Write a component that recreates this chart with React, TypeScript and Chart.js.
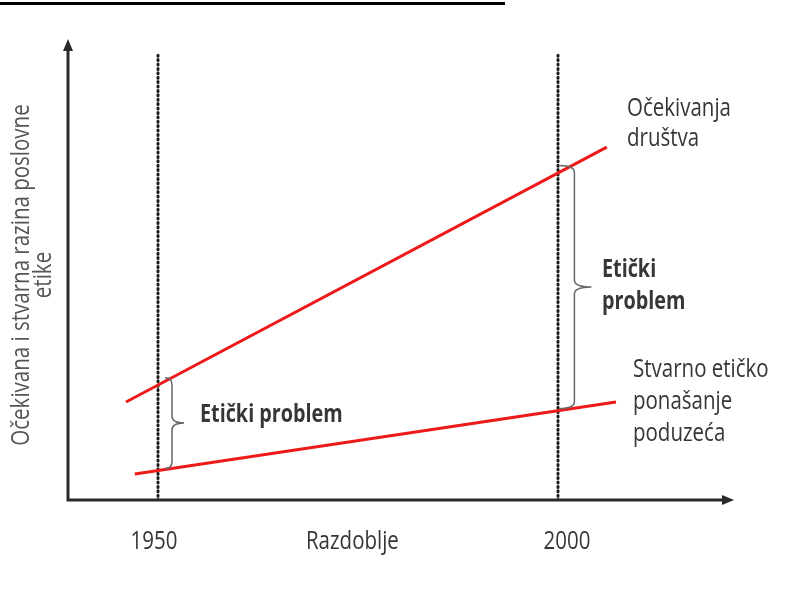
import React, { useEffect, useRef } from "react";
import { Chart, registerables } from "chart.js";

Chart.register(...registerables);

// Data (years on x, level of business ethics on y, 0..100 scale)
const expectationYears = [1946.0, 2006.1];
const expectationValues = [21.3, 76.7];
const actualYears = [1947.1, 2007.25];
const actualValues = [5.65, 21.3];
const markerYears = [1950, 2000];
const markerTop = 96.7;
const xTickLabels = ["1950", "Razdoblje", "2000"];
const xTickPositions = [1950, 1974.3, 2000];
const yAxisTitle = ["Očekivana i stvarna razina poslovne", "etike"];
const expectationLabel = ["Očekivanja", "društva"];
const actualLabel = ["Stvarno etičko", "ponašanje", "poduzeća"];
const gapLabelLeft = "Etički problem";
const gapLabelRight = ["Etički", "problem"];
const braceYears = [1951.75, 2001.8];

const FONT = "'Open Sans', sans-serif";
const RED = "#ee1a1a";
const DARK = "#363636";
const VS = 1.28;

function interp(xs: number[], ys: number[], x: number) {
  const t = (x - xs[0]) / (xs[1] - xs[0]);
  return ys[0] + t * (ys[1] - ys[0]);
}

function drawBrace(ctx: CanvasRenderingContext2D, x: number, y1: number, y2: number, body: number, tip: number) {
  const ym = (y1 + y2) / 2;
  const q = 7;
  ctx.beginPath();
  ctx.moveTo(x, y1);
  ctx.quadraticCurveTo(x + body, y1, x + body, y1 + q);
  ctx.lineTo(x + body, ym - q);
  ctx.quadraticCurveTo(x + body, ym, x + tip, ym);
  ctx.quadraticCurveTo(x + body, ym, x + body, ym + q);
  ctx.lineTo(x + body, y2 - q);
  ctx.quadraticCurveTo(x + body, y2, x, y2);
  ctx.stroke();
}

function text(ctx: CanvasRenderingContext2D, t: string, x: number, y: number) {
  ctx.save();
  ctx.translate(x, y);
  ctx.scale(1, VS);
  ctx.fillText(t, 0, 0);
  ctx.restore();
}

const decorPlugin = {
  id: "decor",
  afterDatasetsDraw(chart: any) {
    const { ctx, chartArea, scales } = chart;
    const xs = scales.x;
    const ys = scales.y;
    ctx.save();
    // top black rule
    ctx.fillStyle = "#000";
    ctx.fillRect(0, 2, 505, 3);

    // axes
    ctx.strokeStyle = "#2a2a2a";
    ctx.fillStyle = "#2a2a2a";
    ctx.lineWidth = 3;
    ctx.beginPath();
    ctx.moveTo(chartArea.left, chartArea.bottom);
    ctx.lineTo(chartArea.left, chartArea.top + 8);
    ctx.moveTo(chartArea.left - 1.5, chartArea.bottom);
    ctx.lineTo(chartArea.right - 8, chartArea.bottom);
    ctx.stroke();
    ctx.beginPath();
    ctx.moveTo(chartArea.left, chartArea.top - 1);
    ctx.lineTo(chartArea.left - 5, chartArea.top + 11);
    ctx.lineTo(chartArea.left + 5, chartArea.top + 11);
    ctx.closePath();
    ctx.fill();
    ctx.beginPath();
    ctx.moveTo(chartArea.right + 1, chartArea.bottom);
    ctx.lineTo(chartArea.right - 11, chartArea.bottom - 5);
    ctx.lineTo(chartArea.right - 11, chartArea.bottom + 5);
    ctx.closePath();
    ctx.fill();

    // braces
    ctx.strokeStyle = "#666";
    ctx.lineWidth = 1.5;
    const bl = braceYears[0];
    drawBrace(
      ctx,
      xs.getPixelForValue(bl) - 7,
      ys.getPixelForValue(interp(expectationYears, expectationValues, bl)),
      ys.getPixelForValue(interp(actualYears, actualValues, bl)),
      7,
      19
    );
    const br = braceYears[1];
    drawBrace(
      ctx,
      xs.getPixelForValue(br) - 13,
      ys.getPixelForValue(interp(expectationYears, expectationValues, br)),
      ys.getPixelForValue(interp(actualYears, actualValues, br)),
      15,
      32
    );

    // texts
    ctx.fillStyle = DARK;
    ctx.textBaseline = "alphabetic";
    ctx.font = `bold 19.8px ${FONT}`;
    ctx.textAlign = "left";
    text(ctx, gapLabelLeft, 200, 422);
    text(ctx, gapLabelRight[0], 602, 277);
    text(ctx, gapLabelRight[1], 602, 309);

    ctx.font = `20.5px ${FONT}`;
    expectationLabel.forEach((t, i) => text(ctx, t, 627, 116 + i * 30));
    actualLabel.forEach((t, i) => text(ctx, t, 633, 377 + i * 32));

    ctx.textAlign = "center";
    xTickLabels.forEach((t, i) => {
      const px = xs.getPixelForValue(xTickPositions[i]);
      const off = i === 0 ? -4 : i === 2 ? 9 : 0;
      text(ctx, t, px + off, 549);
    });

    // y axis title
    ctx.fillStyle = "#555";
    ctx.font = `20.5px ${FONT}`;
    [29, 51].forEach((bx, i) => {
      ctx.save();
      ctx.translate(bx, 275);
      ctx.rotate(-Math.PI / 2);
      ctx.scale(1, VS);
      ctx.fillText(yAxisTitle[i], 0, 0);
      ctx.restore();
    });
    ctx.restore();
  },
};

export default function App() {
  const ref = useRef<HTMLCanvasElement>(null);
  useEffect(() => {
    if (!ref.current) return;
    const markerSets = markerYears.map((yr) => ({
      data: [
        { x: yr, y: markerTop },
        { x: yr, y: 0 },
      ],
      borderColor: "#1a1a1a",
      borderWidth: 3,
      borderDash: [1, 3.4],
      borderCapStyle: "round" as const,
      pointRadius: 0,
      order: 2,
    }));
    const chart = new Chart(ref.current, {
      type: "line",
      data: {
        datasets: [
          ...markerSets,
          {
            data: expectationYears.map((x, i) => ({ x, y: expectationValues[i] })),
            borderColor: RED,
            borderWidth: 3,
            pointRadius: 0,
            order: 1,
          },
          {
            data: actualYears.map((x, i) => ({ x, y: actualValues[i] })),
            borderColor: RED,
            borderWidth: 3,
            pointRadius: 0,
            order: 1,
          },
        ],
      },
      options: {
        animation: false,
        responsive: false,
        devicePixelRatio: 1,
        layout: { padding: { left: 68, right: 52, top: 40, bottom: 96 } },
        plugins: { legend: { display: false }, tooltip: { enabled: false } },
        scales: {
          x: { type: "linear", min: 1938.75, max: 2021.875, display: false },
          y: { type: "linear", min: 0, max: 100, display: false },
        },
      },
      plugins: [decorPlugin],
    });
    return () => chart.destroy();
  }, []);
  return (
    <canvas
      ref={ref}
      width={785}
      height={596}
      style={{ position: "fixed", left: 0, top: 0, width: 785, height: 596, background: "#fff" }}
    />
  );
}
